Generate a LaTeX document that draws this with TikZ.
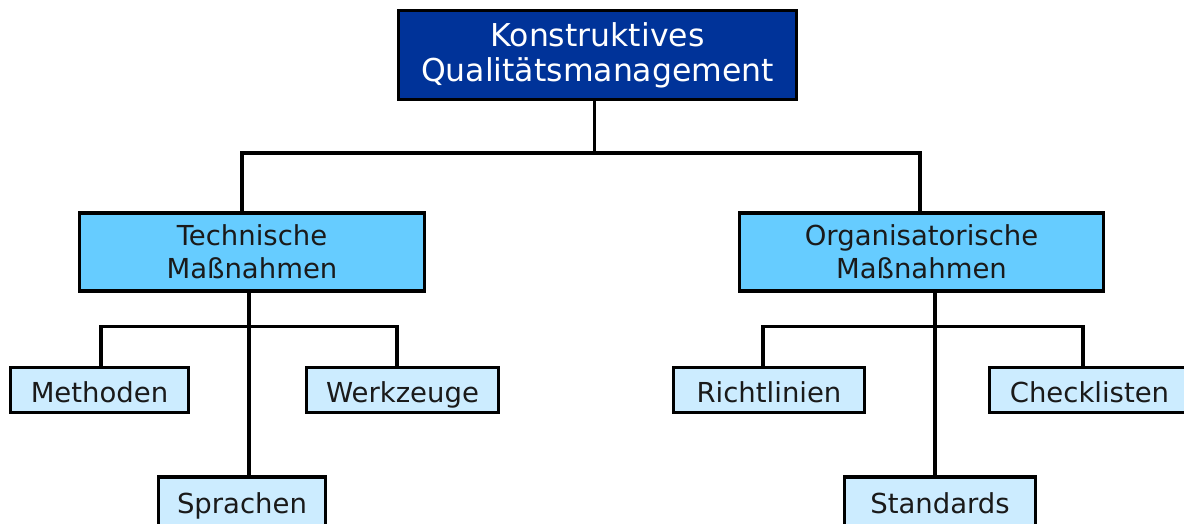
\documentclass[tikz,border=0pt]{standalone}
\usepackage{fontspec}
\setmainfont{DejaVu Sans}
\definecolor{rootblue}{HTML}{003399}
\definecolor{midblue}{HTML}{66CCFF}
\definecolor{leafblue}{HTML}{CCECFF}
\definecolor{ink}{HTML}{1A1A1A}
\begin{document}
\begin{tikzpicture}[x=1pt,y=-1pt,
  box/.style={draw=black,line width=3.3pt,rectangle,inner sep=0pt,align=center,
    font=\fontsize{27.5}{33}\selectfont,text=ink},
  rootbox/.style={box,fill=rootblue,text=white,minimum width=398pt,minimum height=89pt,
    font=\fontsize{31.5}{35}\selectfont},
  midbox/.style={box,fill=midblue,minimum height=78pt},
  leafbox/.style={box,fill=leafblue,minimum height=45pt,text height=26pt,text depth=2pt},
  % bottom row boxes run past the lower edge of the page
  lowbox/.style={leafbox,minimum height=60pt,text height=14pt,text depth=2pt},
  link/.style={line width=3.3pt,draw=black}]
\useasboundingbox (0,0) rectangle (1184,524);
\clip (0,0) rectangle (1184,524);
\fill[white] (0,0) rectangle (1184,524);

% top level
\node[rootbox] (root) at (597.5,55) {Konstruktives\\Qualitätsmanagement};

% second level
\node[midbox,minimum width=345pt] (tech) at (252,252) {Technische\\Maßnahmen};
\node[midbox,minimum width=364pt] (org) at (921.5,252) {Organisatorische\\Maßnahmen};

% leaves under Technische Maßnahmen
\node[leafbox,minimum width=178pt] (meth) at (99.5,390) {Methoden};
\node[leafbox,minimum width=192pt] (werk) at (402.5,390) {Werkzeuge};
\node[lowbox,minimum width=167pt] (spr) at (242,507) {Sprachen};

% leaves under Organisatorische Maßnahmen
\node[leafbox,minimum width=191pt] (richt) at (769,390) {Richtlinien};
\node[leafbox,minimum width=200pt] (check) at (1089.5,390) {Checklisten};
\node[lowbox,minimum width=191pt] (std) at (940,507) {Standards};

% connectors from the root
\draw[link] ([xshift=-3pt]root.south) -- ++(0,52) coordinate (bus);
\draw[link] (bus) -| ([xshift=-10pt]tech.north);
\draw[link] (bus) -| ([xshift=-1.5pt]org.north);

% connectors below Technische Maßnahmen
\draw[link] ([xshift=-3pt]tech.south) -- ([xshift=7pt]spr.north);
\draw[link] ([xshift=1.5pt]meth.north) |- ([xshift=-3pt,yshift=-34pt]tech.south)
  -| ([xshift=-5.5pt]werk.north);

% connectors below Organisatorische Maßnahmen
\draw[link] ([xshift=13.5pt]org.south) -- ([xshift=-5pt]std.north);
\draw[link] ([xshift=-6pt]richt.north) |- ([xshift=13.5pt,yshift=-34pt]org.south)
  -| ([xshift=-6.5pt]check.north);
\end{tikzpicture}
\end{document}
